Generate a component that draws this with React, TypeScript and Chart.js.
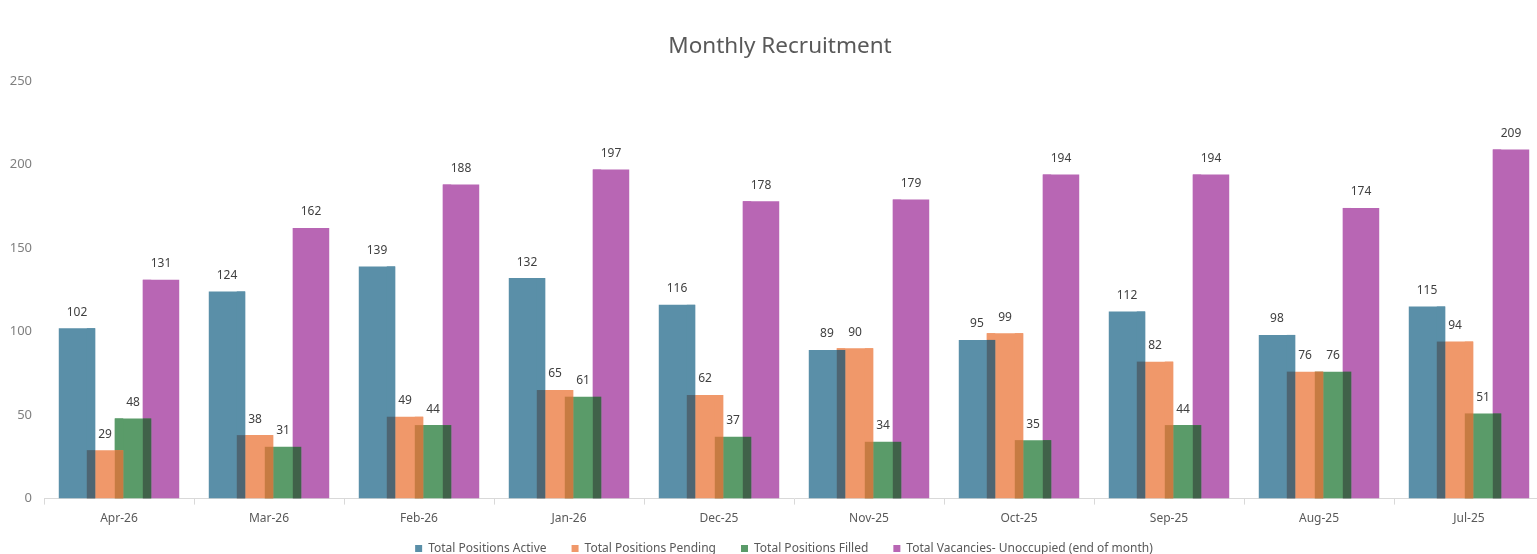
import React, { useEffect, useRef } from "react";
import { Chart, registerables } from "chart.js";

Chart.register(...registerables);

const categories = ["Apr-26", "Mar-26", "Feb-26", "Jan-26", "Dec-25", "Nov-25", "Oct-25", "Sep-25", "Aug-25", "Jul-25"];
const activeValues = [102, 124, 139, 132, 116, 89, 95, 112, 98, 115];
const pendingValues = [29, 38, 49, 65, 62, 90, 99, 82, 76, 94];
const filledValues = [48, 31, 44, 61, 37, 34, 35, 44, 76, 51];
const vacancyValues = [131, 162, 188, 197, 178, 179, 194, 194, 174, 209];
const seriesNames = [
  "Total Positions Active",
  "Total Positions Pending",
  "Total Positions Filled",
  "Total Vacancies- Unoccupied (end of month)",
];
const seriesColors = ["#5a8fa8", "#f0986a", "#5a9b69", "#b866b4"];
const overlapColors = ["#4e6572", "#c67b42", "#406249", "#8a4c87"];
const yTicks = [0, 50, 100, 150, 200, 250];

const FONT = "'Noto Sans', sans-serif";
const LEGEND_PAD = 25;

const layoutTweak = {
  id: "layoutTweak",
  afterLayout(chart: any) {
    const lg = chart.legend;
    const axisY = chart.scales.x.top;
    if (lg) {
      const h = lg.height;
      lg.top = axisY + 50 - LEGEND_PAD - 6;
      lg.bottom = lg.top + h;
      lg.left += 12;
      lg.right += 12;
    }
    const tb = chart.titleBlock;
    if (tb) {
      tb.left += 8;
      tb.right += 8;
    }
  },
};

const overlapPlugin = {
  id: "overlapAndLabels",
  afterDatasetsDraw(chart: any) {
    const ctx = chart.ctx;
    const y = chart.scales.y;
    const n = chart.data.datasets.length;
    const area = chart.chartArea;
    ctx.save();
    ctx.beginPath();
    ctx.rect(area.left, area.top, area.right - area.left, area.bottom - area.top);
    ctx.clip();
    for (let j = 0; j < categories.length; j++) {
      for (let i = 0; i < n - 1; i++) {
        const a = chart.getDatasetMeta(i).data[j];
        const b = chart.getDatasetMeta(i + 1).data[j];
        const aRight = a.x + a.width / 2;
        const bLeft = b.x - b.width / 2;
        if (aRight <= bLeft) continue;
        const vi = chart.data.datasets[i].data[j];
        const vk = chart.data.datasets[i + 1].data[j];
        const base = y.getPixelForValue(0);
        if (vi > vk) {
          ctx.fillStyle = seriesColors[i];
          ctx.fillRect(bLeft, y.getPixelForValue(vi), aRight - bLeft, y.getPixelForValue(vk) - y.getPixelForValue(vi));
        } else if (vk > vi) {
          ctx.fillStyle = seriesColors[i + 1];
          ctx.fillRect(bLeft, y.getPixelForValue(vk), aRight - bLeft, y.getPixelForValue(vi) - y.getPixelForValue(vk));
        }
        const m = Math.min(vi, vk);
        ctx.fillStyle = overlapColors[i];
        ctx.fillRect(bLeft, y.getPixelForValue(m), aRight - bLeft, base - y.getPixelForValue(m));
      }
    }
    ctx.restore();
    ctx.save();
    ctx.font = `12px ${FONT}`;
    ctx.fillStyle = "#404040";
    ctx.textAlign = "center";
    ctx.textBaseline = "middle";
    for (let i = 0; i < n; i++) {
      const meta = chart.getDatasetMeta(i);
      meta.data.forEach((el: any, j: number) => {
        const v = chart.data.datasets[i].data[j];
        ctx.fillText(String(v), el.x, el.y - 16);
      });
    }
    ctx.restore();
  },
};

export default function App() {
  const ref = useRef<HTMLCanvasElement | null>(null);
  useEffect(() => {
    document.body.style.margin = "0";
    document.body.style.overflow = "hidden";
    const values = [activeValues, pendingValues, filledValues, vacancyValues];
    const chart = new Chart(ref.current as HTMLCanvasElement, {
      type: "bar",
      data: {
        labels: categories,
        datasets: values.map((d, i) => ({
          label: seriesNames[i],
          data: d,
          backgroundColor: seriesColors[i],
          borderWidth: 0,
          categoryPercentage: 0.747,
          barPercentage: 1.3,
        })),
      },
      options: {
        animation: false,
        responsive: true,
        maintainAspectRatio: false,
        layout: { padding: { left: 0, right: 16, top: 0, bottom: 0 } },
        plugins: {
          tooltip: { enabled: false },
          title: {
            display: true,
            text: "Monthly Recruitment",
            color: "#595959",
            font: { family: FONT, size: 22.5, weight: "normal" },
            padding: { top: 33, bottom: 21 },
          },
          legend: {
            position: "bottom",
            labels: {
              boxWidth: 7,
              boxHeight: 7,
              padding: LEGEND_PAD,
              color: "#595959",
              font: { family: FONT, size: 12 },
            },
          },
        },
        scales: {
          x: {
            grid: {
              display: true,
              drawOnChartArea: false,
              drawTicks: true,
              tickLength: 6,
              color: "#d9d9d9",
              offset: true,
            },
            border: { display: true, color: "#d9d9d9" },
            ticks: { color: "#595959", font: { family: FONT, size: 12 }, padding: 7 },
          },
          y: {
            min: 0,
            max: 250,
            afterBuildTicks: (scale: any) => {
              scale.ticks = yTicks.map((v) => ({ value: v }));
            },
            afterFit: (scale: any) => {
              scale.width = 44;
            },
            grid: { display: false, drawTicks: false },
            border: { display: false },
            ticks: { color: "#7f7f7f", font: { family: FONT, size: 13 }, padding: 12 },
          },
        },
      },
      plugins: [layoutTweak, overlapPlugin],
    });
    return () => chart.destroy();
  }, []);
  return (
    <div style={{ width: "1560px", height: "580px", position: "relative" }}>
      <canvas ref={ref} />
    </div>
  );
}
